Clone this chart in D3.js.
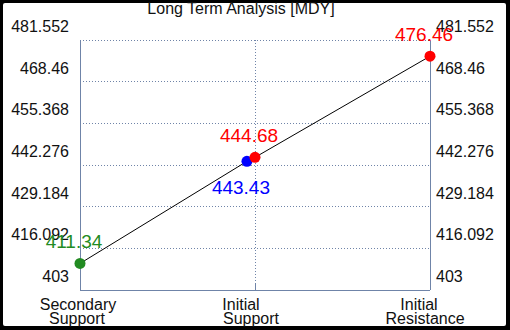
<html>
<head>
<style type="text/css">
	body{ margin:0; background:#000; }
	svg{ display:block; }
	text{ font-family:"Liberation Sans", Arial, sans-serif; }
</style>
<script src="https://cdn.jsdelivr.net/npm/d3@7"></script>
</head>
<body>
<svg id="svg" width="510" height="330"></svg>
<script type="text/javascript">

	var title = "Long Term Analysis [MDY]";
	var categories = [["Secondary", "Support"], ["Initial", "Support"], ["Initial", "Resistance"]];
	var yTicks = [403, 416.092, 429.184, 442.276, 455.368, 468.46, 481.552];
	var yTickLabels = ["403", "416.092", "429.184", "442.276", "455.368", "468.46", "481.552"];

	// points: position along category axis, value, colour, label side
	var pointX = [0, 0.954, 1, 2];
	var pointValues = [411.34, 443.43, 444.68, 476.46];
	var pointColors = ["#228b22", "#0000ff", "#ff0000", "#ff0000"];
	var labelSide = ["up", "down", "up", "up"];

	var svg = d3.select("#svg");
	var axisColor = "#6f84a8";

	svg.append("rect").attr("x", 3).attr("y", 3).attr("width", 503).attr("height", 323).attr("rx", 2).style("fill", "#fff");

	var x = d3.scaleLinear().domain([0, 2]).range([80, 430]);
	var y = d3.scaleLinear().domain([403, 481.552]).range([290, 40]);

	//grid
	var g = svg.append("g");
	g.selectAll("line.hgrid").data(yTicks.slice(1)).enter().append("line")
		.attr("class", "hgrid")
		.attr("x1", x(0)).attr("x2", x(2))
		.attr("y1", function(d){ return y(d); }).attr("y2", function(d){ return y(d); })
		.style("stroke", axisColor).style("stroke-dasharray", "1,2").style("stroke-width", 1)
		.attr("shape-rendering", "crispEdges");

	g.append("line")
		.attr("x1", x(1)).attr("x2", x(1)).attr("y1", y(481.552)).attr("y2", y(403))
		.style("stroke", axisColor).style("stroke-dasharray", "1,2")
		.attr("shape-rendering", "crispEdges");

	//axes lines
	[0, 2].forEach(function(v){
		g.append("line").attr("x1", x(v)).attr("x2", x(v)).attr("y1", y(481.552)).attr("y2", y(403))
			.style("stroke", axisColor).attr("shape-rendering", "crispEdges");
	});
	g.append("line").attr("x1", x(0)).attr("x2", x(2)).attr("y1", y(403)).attr("y2", y(403))
		.style("stroke", axisColor).attr("shape-rendering", "crispEdges");
	[0, 1, 2].forEach(function(v){
		g.append("line").attr("x1", x(v)).attr("x2", x(v)).attr("y1", y(403) - 6).attr("y2", y(403))
			.style("stroke", axisColor).attr("shape-rendering", "crispEdges");
	});

	//tick labels
	g.selectAll("text.yl").data(yTicks).enter().append("text")
		.attr("class", "yl")
		.attr("x", x(0) - 11).attr("y", function(d){ return y(d) - 13.5; })
		.attr("dy", "0.35em").attr("text-anchor", "end")
		.style("font-size", "16px").style("fill", "#111")
		.text(function(d, i){ return yTickLabels[i]; });
	g.selectAll("text.yr").data(yTicks).enter().append("text")
		.attr("class", "yr")
		.attr("x", x(2) + 6).attr("y", function(d){ return y(d) - 13.5; })
		.attr("dy", "0.35em").attr("text-anchor", "start")
		.style("font-size", "16px").style("fill", "#111")
		.text(function(d, i){ return yTickLabels[i]; });

	//category labels, each line nudged like the original
	var catShift = [[-2, -3], [-14, -4], [-11, -5]];
	categories.forEach(function(lines, i){
		var t = g.append("text").attr("text-anchor", "middle").style("font-size", "16px").style("fill", "#111");
		lines.forEach(function(l, j){
			t.append("tspan").attr("x", x(i) + catShift[i][j]).attr("y", 310 + j * 14).text(l);
		});
	});

	//title
	svg.append("text").attr("x", 241).attr("y", 14).attr("text-anchor", "middle")
		.style("font-size", "16px").style("fill", "#111").text(title);

	//line
	var pts = pointX.map(function(d, i){ return [x(d), y(pointValues[i])]; });
	svg.append("path").attr("d", d3.line()(pts))
		.style("fill", "none").style("stroke", "#000").style("stroke-width", 1);

	svg.selectAll("circle").data(pointValues).enter().append("circle")
		.attr("cx", function(d, i){ return x(pointX[i]); })
		.attr("cy", function(d){ return y(d); })
		.attr("r", 5.5)
		.style("fill", function(d, i){ return pointColors[i]; });

	svg.selectAll("text.val").data(pointValues).enter().append("text")
		.attr("class", "val")
		.attr("x", function(d, i){ return x(pointX[i]) - 6; })
		.attr("y", function(d, i){ return y(d) + (labelSide[i] == "up" ? -15 : 33); })
		.attr("text-anchor", "middle")
		.style("font-size", "19px")
		.style("fill", function(d, i){ return pointColors[i]; })
		.text(function(d){ return d; });

</script>
</body>
</html>
